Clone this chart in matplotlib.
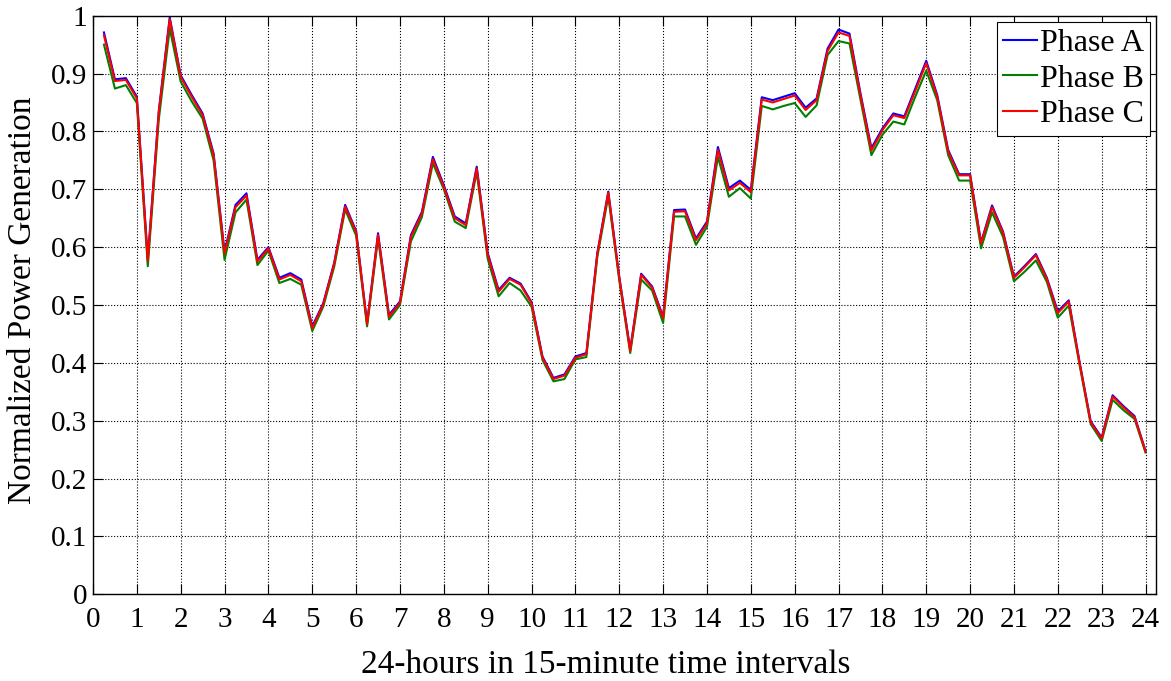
import numpy as np
import matplotlib
matplotlib.use('Agg')
from matplotlib import pyplot as plt

# 15-minute intervals over 24 hours
hours = np.arange(1, 97) * 0.25

phase_a = [0.971, 0.890, 0.892, 0.860, 0.580, 0.835, 0.997, 0.897, 0.863, 0.831, 0.762, 0.592,
           0.673, 0.693, 0.578, 0.600, 0.547, 0.555, 0.544, 0.463, 0.503, 0.573, 0.673, 0.628,
           0.469, 0.624, 0.483, 0.506, 0.621, 0.661, 0.756, 0.707, 0.653, 0.641, 0.739, 0.590,
           0.526, 0.547, 0.537, 0.505, 0.411, 0.374, 0.380, 0.411, 0.417, 0.590, 0.696, 0.549,
           0.423, 0.554, 0.532, 0.480, 0.664, 0.665, 0.615, 0.644, 0.773, 0.702, 0.715, 0.699,
           0.859, 0.854, 0.860, 0.866, 0.841, 0.857, 0.943, 0.976, 0.969, 0.866, 0.771, 0.805,
           0.831, 0.826, 0.874, 0.922, 0.863, 0.768, 0.726, 0.726, 0.608, 0.672, 0.627, 0.549,
           0.568, 0.588, 0.547, 0.489, 0.508, 0.400, 0.299, 0.271, 0.344, 0.325, 0.308, 0.248]

phase_b = [0.950, 0.874, 0.880, 0.849, 0.567, 0.820, 0.978, 0.886, 0.852, 0.822, 0.750, 0.578,
           0.660, 0.682, 0.569, 0.594, 0.538, 0.545, 0.535, 0.455, 0.497, 0.566, 0.665, 0.620,
           0.463, 0.615, 0.475, 0.500, 0.610, 0.652, 0.745, 0.700, 0.644, 0.633, 0.730, 0.580,
           0.515, 0.538, 0.525, 0.497, 0.405, 0.368, 0.372, 0.406, 0.410, 0.583, 0.688, 0.543,
           0.417, 0.544, 0.525, 0.469, 0.653, 0.653, 0.604, 0.635, 0.756, 0.687, 0.702, 0.684,
           0.844, 0.838, 0.844, 0.849, 0.825, 0.845, 0.932, 0.956, 0.952, 0.855, 0.759, 0.794,
           0.817, 0.812, 0.860, 0.905, 0.854, 0.759, 0.715, 0.715, 0.598, 0.660, 0.618, 0.541,
           0.558, 0.577, 0.540, 0.478, 0.499, 0.395, 0.294, 0.265, 0.336, 0.318, 0.303, 0.245]

phase_c = [0.966, 0.887, 0.889, 0.857, 0.576, 0.832, 0.994, 0.894, 0.860, 0.828, 0.759, 0.589,
           0.669, 0.689, 0.575, 0.598, 0.544, 0.552, 0.541, 0.460, 0.501, 0.571, 0.670, 0.626,
           0.467, 0.621, 0.480, 0.504, 0.618, 0.658, 0.752, 0.704, 0.650, 0.638, 0.736, 0.587,
           0.523, 0.545, 0.535, 0.503, 0.409, 0.372, 0.378, 0.409, 0.415, 0.588, 0.694, 0.547,
           0.421, 0.552, 0.530, 0.477, 0.661, 0.662, 0.612, 0.641, 0.768, 0.698, 0.711, 0.695,
           0.855, 0.850, 0.856, 0.862, 0.837, 0.854, 0.939, 0.971, 0.965, 0.862, 0.767, 0.802,
           0.828, 0.823, 0.870, 0.918, 0.860, 0.765, 0.724, 0.724, 0.606, 0.669, 0.625, 0.547,
           0.566, 0.586, 0.545, 0.486, 0.506, 0.398, 0.297, 0.269, 0.342, 0.323, 0.306, 0.247]

plt.rcParams['font.family'] = ['Liberation Serif', 'DejaVu Serif']

fig = plt.figure(figsize=(11.71, 6.81), dpi=100)
ax = fig.add_axes([0.0794, 0.1273, 0.9082, 0.8497])

ax.plot(hours, phase_a, color='#0000ff', lw=1.5, label='Phase A')
ax.plot(hours, phase_b, color='#008000', lw=1.5, label='Phase B')
ax.plot(hours, phase_c, color='#ff0000', lw=1.5, label='Phase C')

ax.set_xlim(0, 24.25)
ax.set_ylim(0, 1)
ax.set_xticks(np.arange(0, 25, 1))
ax.set_yticks(np.arange(0, 1.01, 0.1))
ax.set_yticklabels(['0'] + ['%.1f' % v for v in np.arange(0.1, 0.95, 0.1)] + ['1'])
ax.tick_params(direction='in', top=True, right=True, labelsize=21, length=7, width=0.8)
ax.tick_params(axis='x', pad=9)
ax.tick_params(axis='y', pad=4)
ax.grid(True, color='black', linestyle=':', linewidth=0.8)
for s in ax.spines.values():
    s.set_linewidth(1.0)

ax.set_xlabel('24-hours in 15-minute time intervals', fontsize=24)
ax.set_ylabel('Normalized Power Generation', fontsize=24)
ax.xaxis.set_label_coords(0.482, -0.095)
ax.yaxis.set_label_coords(-0.052, 0.509)

leg = ax.legend(loc='upper right', fontsize=23, handlelength=1.05, handletextpad=0.1,
                borderpad=0.2, labelspacing=0.2, fancybox=False, framealpha=1,
                borderaxespad=0.2)
leg.get_frame().set_edgecolor('black')
leg.get_frame().set_linewidth(0.8)

plt.savefig('out.png', dpi=100)
plt.close()
